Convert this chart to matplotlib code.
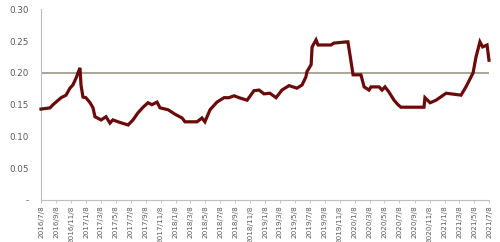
import matplotlib
matplotlib.use("Agg")
import matplotlib.pyplot as plt
import pandas as pd

start_date = "2016-07-08"
day_offsets = [0, 37, 49, 61, 82, 102, 118, 130, 143, 159, 163, 171, 183, 200, 212, 220,
               245, 265, 281, 293, 314, 330, 355, 375, 395, 416, 436, 452, 473, 485, 518,
               546, 575, 587, 620, 636, 656, 668, 689, 717, 746, 766, 787, 807, 840, 868,
               889, 909, 933, 958, 982, 1011, 1043, 1064, 1080, 1084, 1101, 1105, 1121,
               1129, 1182, 1194, 1247, 1251, 1264, 1272, 1304, 1317, 1337, 1345, 1378,
               1390, 1402, 1418, 1439, 1455, 1467, 1561, 1565, 1586, 1610, 1651, 1712,
               1732, 1761, 1773, 1789, 1800, 1818, 1826]
values = [0.143, 0.145, 0.150, 0.154, 0.161, 0.165, 0.176, 0.181, 0.192, 0.208, 0.181,
          0.162, 0.161, 0.153, 0.145, 0.131, 0.126, 0.131, 0.121, 0.126, 0.123, 0.121,
          0.118, 0.126, 0.137, 0.146, 0.153, 0.150, 0.154, 0.145, 0.142, 0.135, 0.129,
          0.123, 0.123, 0.123, 0.129, 0.123, 0.142, 0.154, 0.161, 0.161, 0.164, 0.161,
          0.157, 0.172, 0.173, 0.167, 0.168, 0.161, 0.173, 0.180, 0.176, 0.181, 0.194,
          0.202, 0.213, 0.241, 0.252, 0.244, 0.244, 0.247, 0.249, 0.249, 0.217, 0.197,
          0.197, 0.178, 0.173, 0.178, 0.178, 0.173, 0.178, 0.170, 0.157, 0.150, 0.146,
          0.146, 0.161, 0.153, 0.157, 0.168, 0.165, 0.178, 0.200, 0.225, 0.249, 0.241,
          0.244, 0.220]
reference_level = 0.20
y_ticks = [0.0, 0.05, 0.10, 0.15, 0.20, 0.25, 0.30]
y_tick_labels = ["-", "0.05", "0.10", "0.15", "0.20", "0.25", "0.30"]

dates = pd.Timestamp(start_date) + pd.to_timedelta(day_offsets, unit="D")
x_ticks = pd.date_range("2016-07-01", "2021-07-01", freq="2MS") + pd.Timedelta(days=7)
x_tick_labels = [f"{d.year}/{d.month}/{d.day}" for d in x_ticks]

fig = plt.figure(figsize=(5.0, 2.42), dpi=100)
ax = fig.add_axes([0.082, 0.174, 0.896, 0.787])

ax.axhline(reference_level, color="#a8a697", lw=1.4, zorder=1)
ax.plot(dates, values, color="#6a0a0a", lw=2.3, solid_joinstyle="miter", zorder=3,
        clip_on=False)

ax.set_xlim(x_ticks[0], x_ticks[-1])
ax.set_ylim(0, 0.30)
ax.set_yticks(y_ticks)
ax.set_yticklabels(y_tick_labels)
ax.set_xticks(x_ticks)
ax.set_xticklabels(x_tick_labels, rotation=90)

for s in ["top", "right"]:
    ax.spines[s].set_visible(False)
for s in ["left", "bottom"]:
    ax.spines[s].set_color("#bfbfbf")
    ax.spines[s].set_linewidth(0.8)

ax.tick_params(axis="y", length=0, pad=9, labelsize=6.3, labelcolor="#595959")
ax.tick_params(axis="x", length=2.5, width=0.6, color="#bfbfbf", pad=1.5,
               labelsize=5.2, labelcolor="#595959")

fig.savefig("out.png", dpi=100)
